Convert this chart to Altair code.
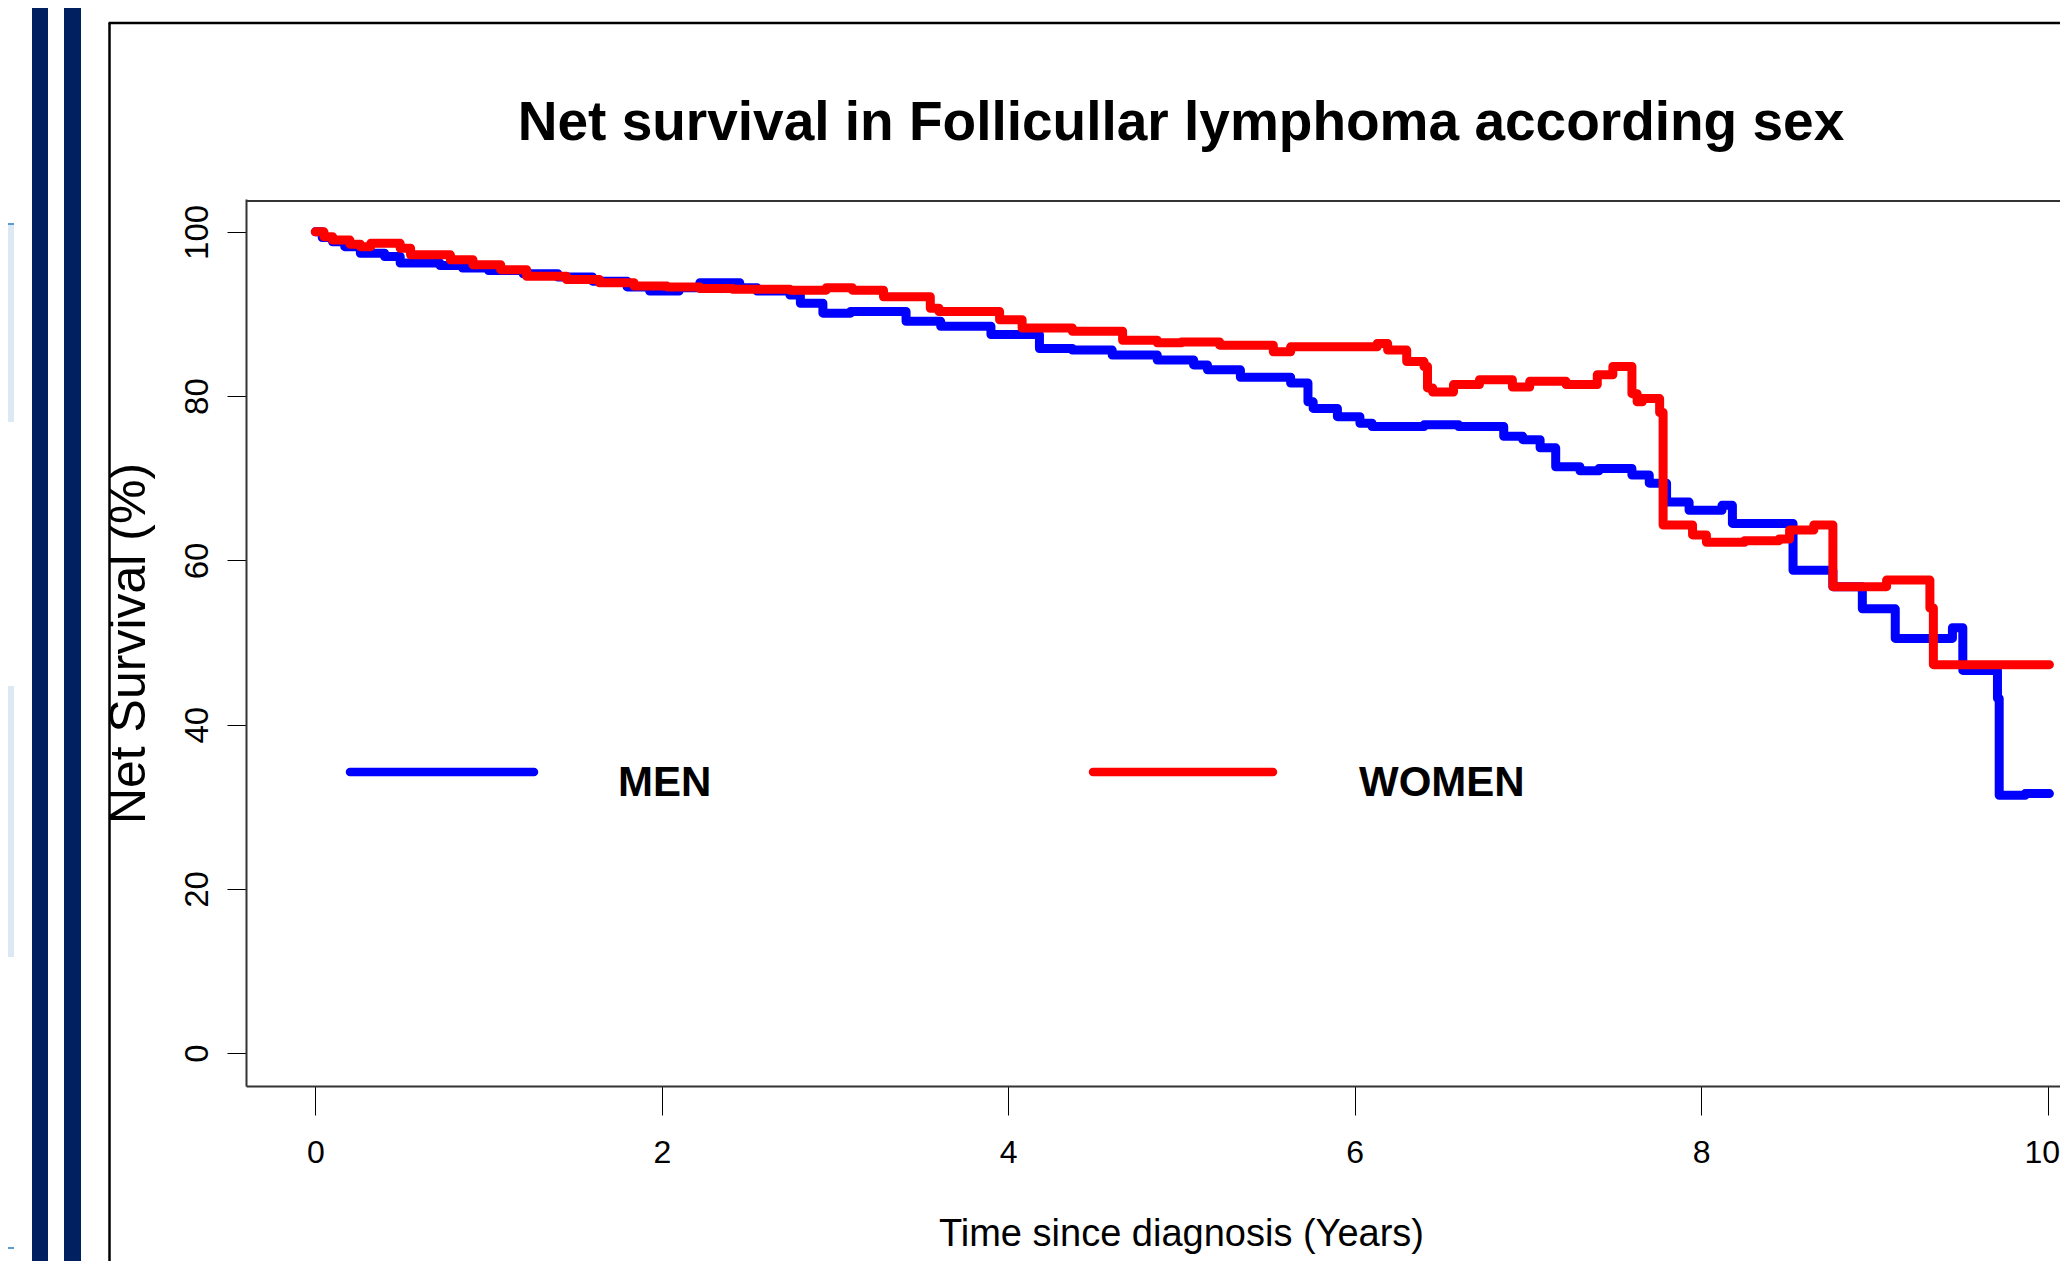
import altair as alt
import pandas as pd

# ---------------- data ----------------
men_time = [0.00, 0.04, 0.10, 0.17, 0.26, 0.40, 0.49, 0.72, 0.85, 1.00, 1.20, 1.40, 1.60, 1.80,
            1.93, 2.10, 2.22, 2.45, 2.55, 2.74, 2.80, 2.93, 3.09, 3.41, 3.61, 3.90, 4.18, 4.37,
            4.60, 4.86, 5.07, 5.15, 5.34, 5.63, 5.73, 5.76, 5.90, 6.03, 6.10, 6.40, 6.60, 6.86,
            6.97, 7.07, 7.16, 7.30, 7.41, 7.60, 7.70, 7.80, 7.93, 8.12, 8.18, 8.53, 8.76, 8.93,
            9.12, 9.45, 9.51, 9.71, 9.72, 9.87, 10.01]
men_surv = [100.0, 99.3, 98.8, 98.2, 97.4, 97.0, 96.2, 95.9, 95.6, 95.3, 94.9, 94.5, 94.0, 93.3,
            92.8, 93.2, 93.8, 93.2, 92.8, 92.3, 91.3, 90.1, 90.3, 89.1, 88.5, 87.5, 85.8, 85.6,
            85.0, 84.4, 83.8, 83.2, 82.3, 81.6, 79.3, 78.5, 77.5, 76.7, 76.3, 76.5, 76.3, 75.1,
            74.7, 73.7, 71.4, 70.9, 71.2, 70.4, 69.4, 67.1, 66.1, 66.7, 64.5, 58.8, 56.8, 54.1,
            50.5, 51.8, 46.6, 43.2, 31.4, 31.6, 31.6]

women_time = [0.00, 0.05, 0.10, 0.20, 0.26, 0.32, 0.49, 0.55, 0.78, 0.91, 1.07, 1.22, 1.45, 1.64,
              1.84, 2.03, 2.22, 2.41, 2.74, 2.95, 3.10, 3.28, 3.55, 3.60, 3.95, 4.08, 4.37, 4.66,
              4.86, 5.00, 5.22, 5.53, 5.63, 6.13, 6.19, 6.30, 6.40, 6.42, 6.45, 6.57, 6.72, 6.91,
              7.01, 7.22, 7.40, 7.49, 7.60, 7.63, 7.66, 7.76, 7.78, 7.95, 8.03, 8.25, 8.45, 8.51,
              8.65, 8.76, 9.07, 9.32, 9.34, 10.01]
women_surv = [100.0, 99.4, 99.0, 98.5, 98.2, 98.6, 98.0, 97.2, 96.6, 96.0, 95.4, 94.6, 94.2, 93.8,
              93.4, 93.3, 93.1, 93.0, 92.9, 93.2, 92.9, 92.1, 90.7, 90.3, 89.3, 88.3, 87.9, 86.8,
              86.5, 86.6, 86.2, 85.4, 86.0, 86.4, 85.6, 84.2, 83.6, 81.0, 80.5, 81.4, 82.0, 81.1,
              81.8, 81.4, 82.6, 83.6, 80.3, 79.3, 79.7, 78.0, 64.3, 63.1, 62.2, 62.4, 62.6, 63.7,
              64.3, 56.8, 57.6, 54.2, 47.3, 47.3]

series_names = ["MEN", "WOMEN"]
series_colors = ["#0000FF", "#FF0000"]
x_ticks = [0, 2, 4, 6, 8, 10]
y_ticks = [0, 20, 40, 60, 80, 100]
title_text = "Net survival in Follicullar lymphoma according sex"
x_title = "Time since diagnosis (Years)"
y_title = "Net Survival (%)"

df = pd.concat([
    pd.DataFrame({"t": men_time, "s": men_surv, "sex": series_names[0]}),
    pd.DataFrame({"t": women_time, "s": women_surv, "sex": series_names[1]}),
], ignore_index=True)

REG = "Liberation Sans, Arial, Helvetica, sans-serif"
NAVY = "#002060"

one = pd.DataFrame({"k": [0]})


def rect(x, x2, y, y2, color):
    return alt.Chart(one).mark_rect(color=color).encode(
        x=alt.value(x), x2=alt.value(x2), y=alt.value(y), y2=alt.value(y2))


def hrule(x, x2, y, color, w):
    return alt.Chart(one).mark_rule(color=color, strokeWidth=w).encode(
        x=alt.value(x), x2=alt.value(x2), y=alt.value(y))


def vrule(x, y, y2, color, w):
    return alt.Chart(one).mark_rule(color=color, strokeWidth=w).encode(
        x=alt.value(x), y=alt.value(y), y2=alt.value(y2))


def text(s, x, y, font, size, weight="normal", align="left", baseline="alphabetic"):
    return alt.Chart(one).mark_text(font=font, fontSize=size, fontWeight=weight, align=align,
                                    baseline=baseline, color="black").encode(
        x=alt.value(x), y=alt.value(y), text=alt.value(s))


def seg(x, x2, y, color):
    return alt.Chart(one).mark_rule(color=color, strokeWidth=8.5, strokeCap="round").encode(
        x=alt.value(x), x2=alt.value(x2), y=alt.value(y))


x_scale = alt.Scale(domain=[-0.4, 10.4], range=[0, 1871], nice=False, zero=False)
y_scale = alt.Scale(domain=[-4, 104], nice=False, zero=False)

curves = alt.Chart(df).mark_line(
    interpolate="step-after", strokeWidth=9, strokeCap="round", strokeJoin="round"
).encode(
    x=alt.X("t:Q", scale=x_scale, axis=alt.Axis(
        values=x_ticks, format="d", title=x_title, grid=False,
        labelFont=REG, labelFontSize=32, labelColor="black", labelBaseline="middle",
        labelPadding=37, labelFlush=False, labelOverlap=False,
        labelOffset=alt.ConditionalAxisNumber(condition={"test": "datum.value == 10", "value": -6}, value=0),
        tickSize=29, tickColor="black", tickWidth=1,
        domainColor="#333333", domainWidth=2,
        titleFont=REG, titleFontSize=38, titleFontWeight="normal", titleColor="black",
        titleX=935, titleY=148, titleAlign="center", titleBaseline="middle")),
    y=alt.Y("s:Q", scale=y_scale, axis=alt.Axis(
        values=y_ticks, format="d", title=y_title, grid=False,
        labelFont=REG, labelFontSize=33, labelColor="black", labelAngle=270,
        labelAlign="center", labelBaseline="middle", labelPadding=30, labelOverlap=False,
        tickSize=19, tickColor="black", tickWidth=1,
        domainColor="#333333", domainWidth=2,
        titleFont=REG, titleFontSize=50, titleFontWeight="normal", titleColor="black",
        titleAngle=270, titleX=-117, titleY=444, titleAlign="center", titleBaseline="middle")),
    color=alt.Color("sex:N", scale=alt.Scale(domain=series_names, range=series_colors), legend=None),
)

layers = [
    # slide decorations on the left
    rect(-238, -232, 25, 223, "#DDE8F5"),
    rect(-238, -232, 487, 758, "#DDE8F5"),
    hrule(-238, -232, 25, "#5B9BD5", 2),
    hrule(-238, -232, 1049, "#5B9BD5", 2),
    rect(-214, -198, -199, 1100, NAVY),
    rect(-182, -165, -199, 1100, NAVY),
    # outer frame
    vrule(-136.5, -176, 1100, "black", 2.5),
    hrule(-137.5, 1900, -176, "black", 2.5),
    # top border of the plot box
    hrule(0, 1871, 2, "#333333", 2),
    curves,
    # title
    text(title_text, 935, -59, REG, 55, "bold", "center"),
    # legend
    seg(104, 288, 573, series_colors[0]),
    text(series_names[0], 372, 597, REG, 42, "bold"),
    seg(847, 1027, 573, series_colors[1]),
    text(series_names[1], 1113, 597, REG, 42, "bold"),
]

chart = alt.layer(*layers).properties(
    width=1814, height=887,
    autosize=alt.AutoSizeParams(type="none"),
    padding={"left": 238, "top": 191, "right": 0, "bottom": 175},
    background="white",
).configure_view(stroke=None)

chart.save("out.html", embed_options={"renderer": "svg", "actions": False})
